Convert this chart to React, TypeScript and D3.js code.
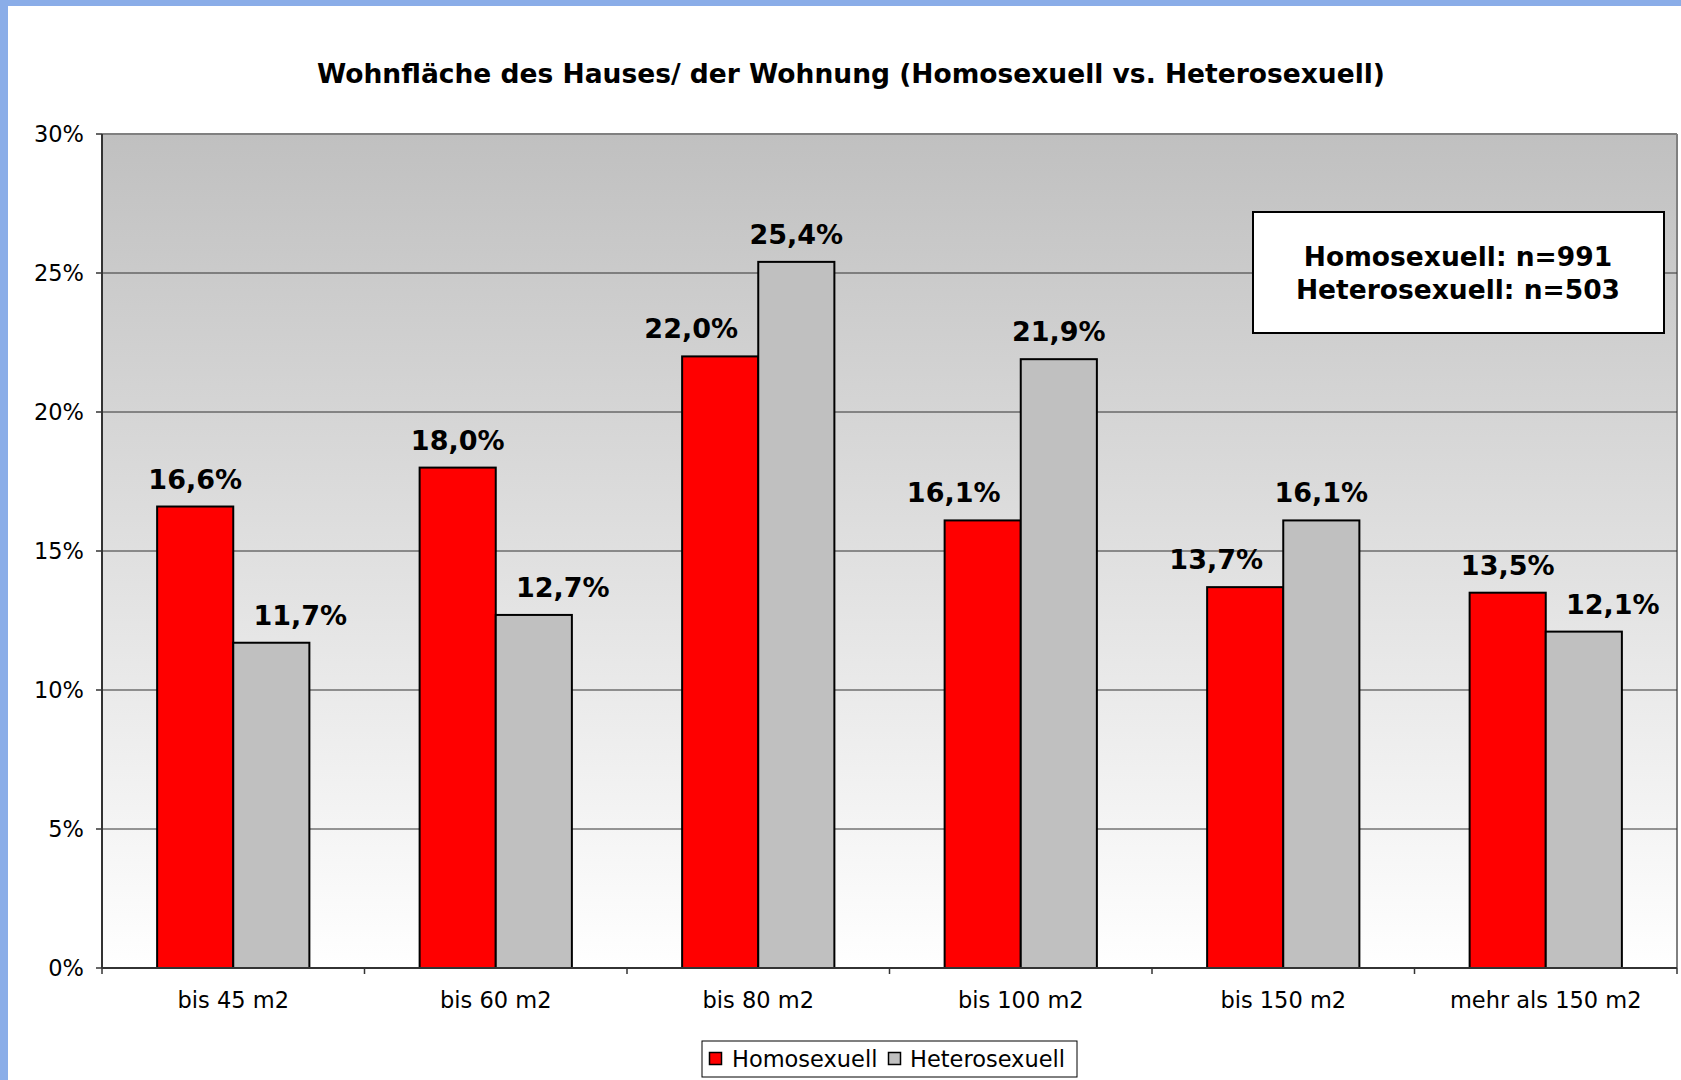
import React from "react";
import * as d3 from "d3";

const categories = ["bis 45 m2", "bis 60 m2", "bis 80 m2", "bis 100 m2", "bis 150 m2", "mehr als 150 m2"];
const seriesNames = ["Homosexuell", "Heterosexuell"];
const homoValues = [16.6, 18.0, 22.0, 16.1, 13.7, 13.5];
const heteroValues = [11.7, 12.7, 25.4, 21.9, 16.1, 12.1];
const yTicks = [0, 5, 10, 15, 20, 25, 30];
const title = "Wohnfläche des Hauses/ der Wohnung (Homosexuell vs. Heterosexuell)";
const noteLines = ["Homosexuell: n=991", "Heterosexuell: n=503"];
const colors = ["#FF0000", "#C0C0C0"];

const W = 1681;
const H = 1080;
const plot = { left: 102, right: 1677, top: 134, bottom: 968 };
const font = "'DejaVu Sans', Verdana, sans-serif";

export default function App() {
  const x0 = d3.scaleBand<string>().domain(categories).range([plot.left, plot.right]).paddingInner(0).paddingOuter(0);
  const bandW = x0.bandwidth();
  const groupW = bandW * 0.58;
  const x1 = d3.scaleBand<string>().domain(seriesNames).range([0, groupW]);
  const y = d3.scaleLinear().domain([0, 30]).range([plot.bottom, plot.top]);
  const series = [homoValues, heteroValues];
  const fmt = (v: number) => v.toFixed(1).replace(".", ",") + "%";

  return (
    <svg width={W} height={H} style={{ position: "absolute", left: 0, top: 0, background: "#fff" }}>
      <defs>
        <linearGradient id="bg" x1="0" y1="0" x2="0" y2="1">
          <stop offset="0" stopColor="#C0C0C0" />
          <stop offset="1" stopColor="#FFFFFF" />
        </linearGradient>
      </defs>
      <rect x={0} y={0} width={W} height={H} fill="#fff" />
      <rect x={0} y={0} width={W} height={6} fill="#8AADE8" />
      <rect x={0} y={0} width={8} height={H} fill="#8AADE8" />

      <text x={851} y={83} textAnchor="middle" fontFamily={font} fontWeight="bold" fontSize={26.5} fill="#000">
        {title}
      </text>

      <rect x={plot.left} y={plot.top} width={plot.right - plot.left} height={plot.bottom - plot.top} fill="url(#bg)" />
      <line x1={plot.left} x2={plot.right} y1={plot.top} y2={plot.top} stroke="#808080" strokeWidth={2} />
      <line x1={plot.right} x2={plot.right} y1={plot.top} y2={plot.bottom} stroke="#808080" strokeWidth={2} />

      {yTicks.filter((t) => t > 0 && t < 30).map((t) => (
        <line key={"g" + t} x1={plot.left} x2={plot.right} y1={y(t)} y2={y(t)} stroke="#333" strokeWidth={1} />
      ))}

      {yTicks.map((t) => (
        <g key={"t" + t}>
          <line x1={plot.left - 6} x2={plot.left} y1={y(t)} y2={y(t)} stroke="#333" strokeWidth={1.5} />
          <text x={84} y={y(t) + 8} textAnchor="end" fontFamily={font} fontSize={22.5} fill="#000">
            {t + "%"}
          </text>
        </g>
      ))}

      {categories.map((c, i) => {
        const gx = (x0(c) as number) + (bandW - groupW) / 2;
        return (
          <g key={c}>
            {series.map((vals, s) => {
              const bx = gx + (x1(seriesNames[s]) as number);
              const bw = x1.bandwidth();
              const v = vals[i];
              const other = series[1 - s][i];
              const shift = other > v ? (s === 0 ? -29 : 29) : 0;
              return (
                <g key={s}>
                  <rect x={bx} y={y(v)} width={bw} height={plot.bottom - y(v)} fill={colors[s]} stroke="#000" strokeWidth={2} />
                  <text x={bx + bw / 2 + shift} y={y(v) - 18} textAnchor="middle" fontFamily={font} fontWeight="bold" fontSize={27} fill="#000">
                    {fmt(v)}
                  </text>
                </g>
              );
            })}
            <text x={(x0(c) as number) + bandW / 2} y={1008} textAnchor="middle" fontFamily={font} fontSize={22.5} fill="#000">
              {c}
            </text>
          </g>
        );
      })}

      {categories.map((c, i) => (
        <line key={"xt" + i} x1={(x0(c) as number) + bandW} x2={(x0(c) as number) + bandW} y1={plot.bottom} y2={plot.bottom + 6} stroke="#333" strokeWidth={1.5} />
      ))}
      <line x1={plot.left} x2={plot.left} y1={plot.bottom} y2={plot.bottom + 6} stroke="#333" strokeWidth={1.5} />

      <line x1={plot.left} x2={plot.left} y1={plot.top} y2={plot.bottom} stroke="#333" strokeWidth={2} />
      <line x1={plot.left} x2={plot.right} y1={plot.bottom} y2={plot.bottom} stroke="#333" strokeWidth={2} />

      <rect x={1253} y={212} width={411} height={121} fill="#fff" stroke="#000" strokeWidth={2} />
      {noteLines.map((l, i) => (
        <text key={l} x={1458} y={266 + i * 33} textAnchor="middle" fontFamily={font} fontWeight="bold" fontSize={26.5} fill="#000">
          {l}
        </text>
      ))}

      <rect x={702} y={1041} width={375} height={36} fill="#fff" stroke="#000" strokeWidth={1} />
      <rect x={709.5} y={1052.5} width={12} height={12} fill={colors[0]} stroke="#000" strokeWidth={1.5} />
      <text x={732} y={1067} fontFamily={font} fontSize={22.5} fill="#000">{seriesNames[0]}</text>
      <rect x={888.5} y={1052.5} width={12} height={12} fill={colors[1]} stroke="#000" strokeWidth={1.5} />
      <text x={910} y={1067} fontFamily={font} fontSize={22.5} fill="#000">{seriesNames[1]}</text>
    </svg>
  );
}
